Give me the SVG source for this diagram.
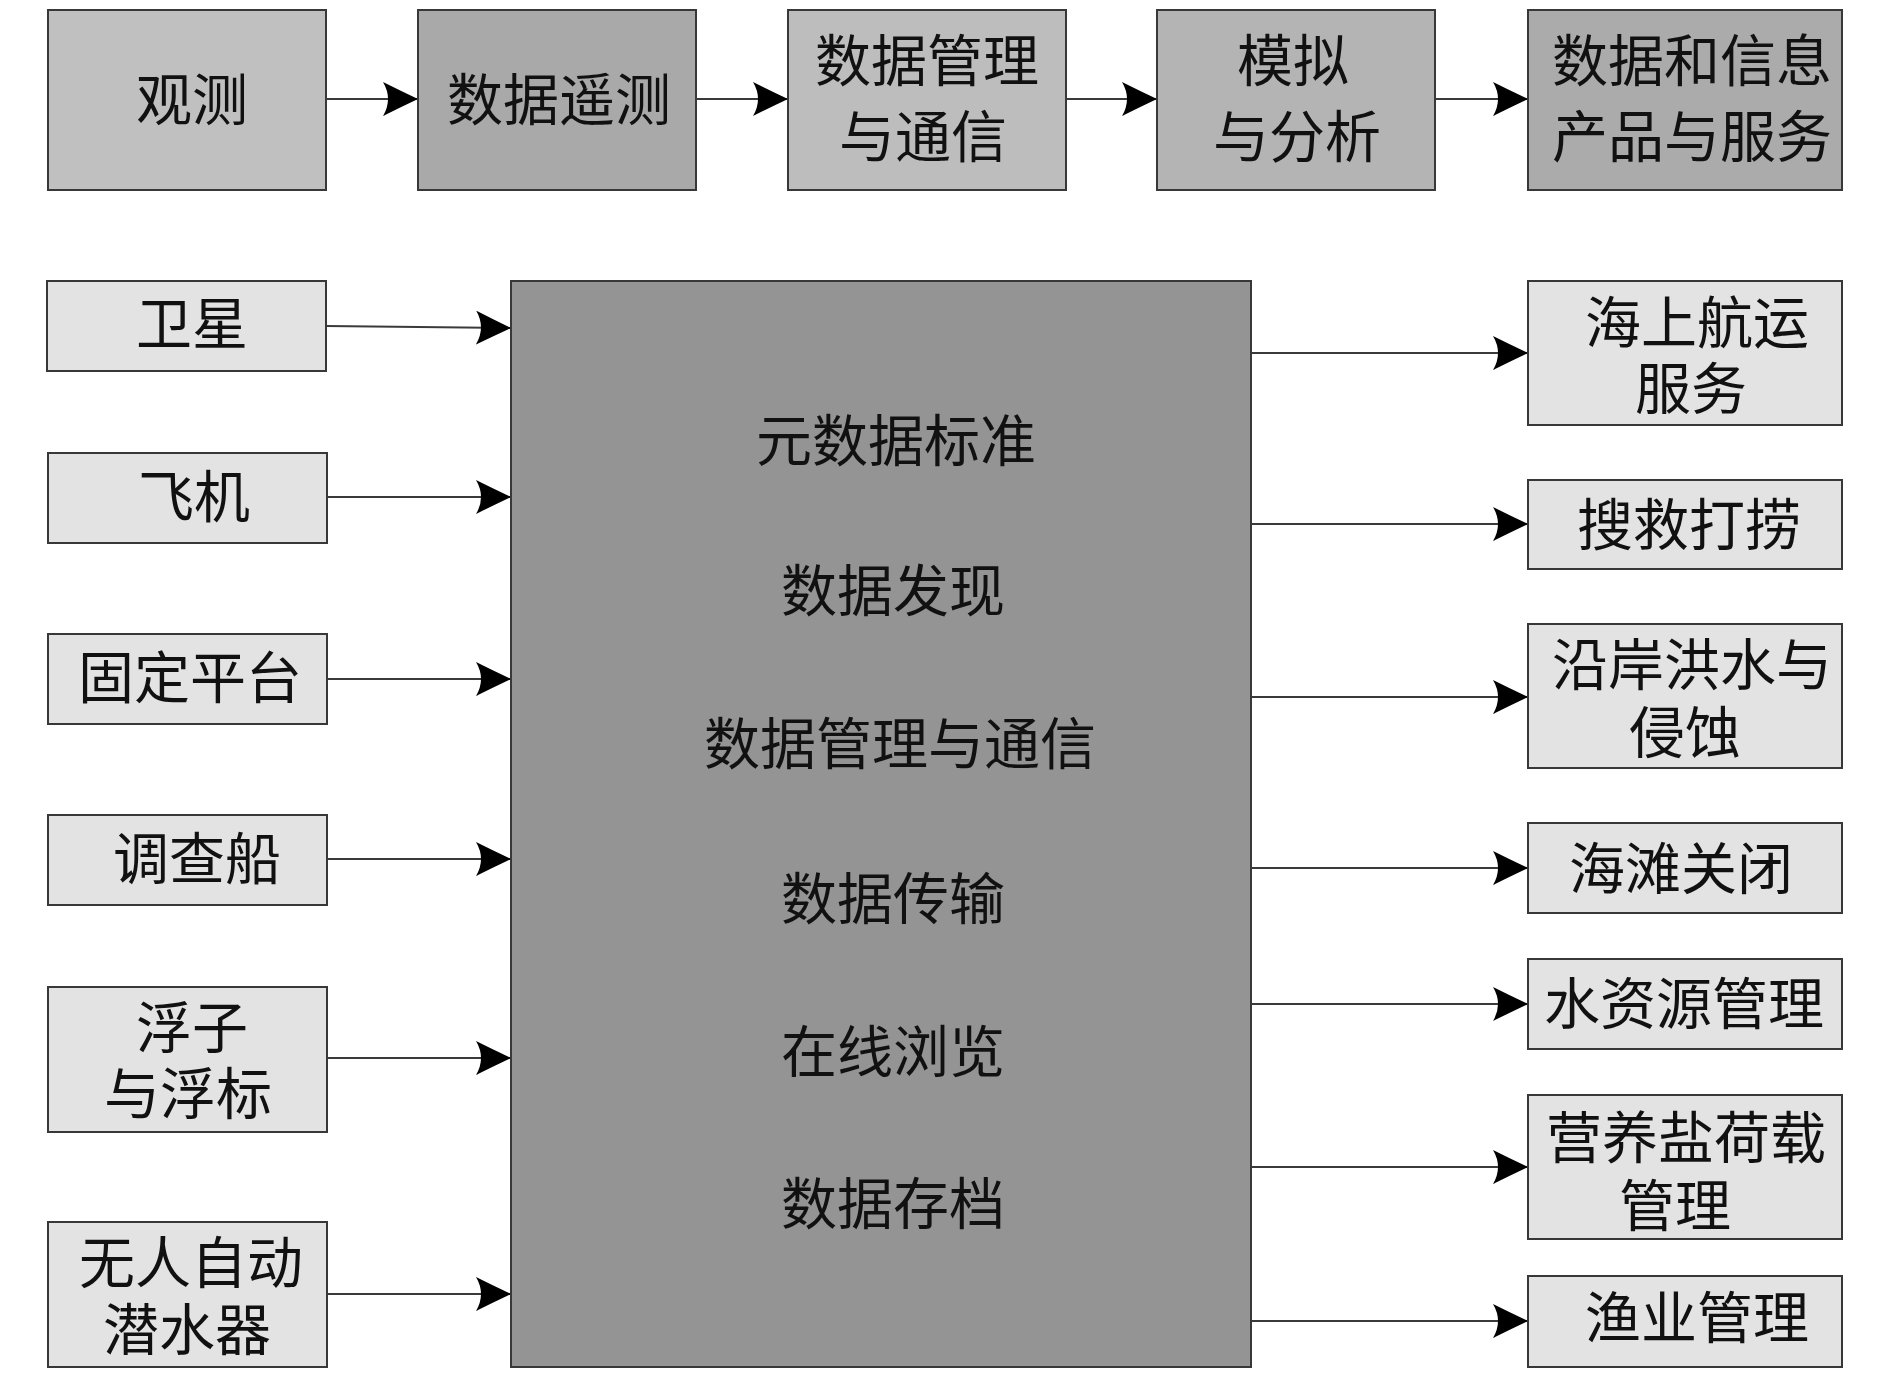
<svg xmlns="http://www.w3.org/2000/svg" width="1890" height="1383" viewBox="0 0 1890 1383">
<style>
.b{stroke:#383838;stroke-width:2}
.t{font-family:"Noto Sans CJK SC","Noto Sans CJK JP",sans-serif;font-size:56px;fill:#111;text-anchor:middle}
.c{fill:none;stroke:#3a3a3a;stroke-width:2;marker-end:url(#ah)}
.s{fill:#e3e3e3}
</style>
<defs>
<marker id="ah" viewBox="0 0 35 34" refX="35" refY="17" markerWidth="35" markerHeight="34" markerUnits="userSpaceOnUse" orient="auto">
<path d="M0,0 Q18,9 35,17 Q18,25 0,34 Q10,17 0,0 Z" fill="#000"/>
</marker>
</defs>
<rect width="1890" height="1383" fill="#fff"/>
<g id="connectors">
<path class="c" d="M326,99 H418"/>
<path class="c" d="M696,99 H788"/>
<path class="c" d="M1066,99 H1157"/>
<path class="c" d="M1435,99 H1528"/>
<path class="c" d="M326,326 L511,328"/>
<path class="c" d="M327,497 H511"/>
<path class="c" d="M327,679 H511"/>
<path class="c" d="M327,859 H511"/>
<path class="c" d="M327,1058 H511"/>
<path class="c" d="M327,1294 H511"/>
<path class="c" d="M1251,353 H1528"/>
<path class="c" d="M1251,498 V524 H1528"/>
<path class="c" d="M1251,697 H1528"/>
<path class="c" d="M1251,868 H1528"/>
<path class="c" d="M1251,1004 H1528"/>
<path class="c" d="M1251,1167 H1528"/>
<path class="c" d="M1251,1321 H1528"/>
</g>
<g id="n_obs"><rect class="b" x="48" y="10" width="278" height="180" fill="#c0c0c0"/><text class="t" x="192" y="120">观测</text></g>
<g id="n_tele"><rect class="b" x="418" y="10" width="278" height="180" fill="#a9a9a9"/><text class="t" x="559" y="120">数据遥测</text></g>
<g id="n_dmc"><rect class="b" x="788" y="10" width="278" height="180" fill="#bdbdbd"/><text class="t"><tspan x="927" y="81">数据管理</tspan><tspan x="923" y="157">与通信</tspan></text></g>
<g id="n_model"><rect class="b" x="1157" y="10" width="278" height="180" fill="#b4b4b4"/><text class="t"><tspan x="1293" y="81">模拟</tspan><tspan x="1297" y="157">与分析</tspan></text></g>
<g id="n_prod"><rect class="b" x="1528" y="10" width="314" height="180" fill="#ababab"/><text class="t"><tspan x="1692" y="81">数据和信息</tspan><tspan x="1692" y="157">产品与服务</tspan></text></g>

<g id="n_sat"><rect class="b s" x="47" y="281" width="279" height="90"/><text class="t" x="192" y="344">卫星</text></g>
<g id="n_plane"><rect class="b s" x="48" y="453" width="279" height="90"/><text class="t" x="194" y="517">飞机</text></g>
<g id="n_fixed"><rect class="b s" x="48" y="634" width="279" height="90"/><text class="t" x="190" y="698">固定平台</text></g>
<g id="n_ship"><rect class="b s" x="48" y="815" width="279" height="90"/><text class="t" x="197" y="879">调查船</text></g>
<g id="n_buoy"><rect class="b s" x="48" y="987" width="279" height="145"/><text class="t"><tspan x="192" y="1048">浮子</tspan><tspan x="188" y="1114">与浮标</tspan></text></g>
<g id="n_auv"><rect class="b s" x="48" y="1222" width="279" height="145"/><text class="t"><tspan x="191" y="1283">无人自动</tspan><tspan x="187" y="1350">潜水器</tspan></text></g>

<g id="n_core"><rect class="b" x="511" y="281" width="740" height="1086" fill="#949494"/>
<text class="t" x="896" y="461">元数据标准</text>
<text class="t" x="893" y="611">数据发现</text>
<text class="t" x="900" y="764">数据管理与通信</text>
<text class="t" x="893" y="919">数据传输</text>
<text class="t" x="893" y="1072">在线浏览</text>
<text class="t" x="893" y="1224">数据存档</text>
</g>

<g id="n_ship_srv"><rect class="b s" x="1528" y="281" width="314" height="144"/><text class="t"><tspan x="1697" y="343">海上航运</tspan><tspan x="1691" y="409">服务</tspan></text></g>
<g id="n_sar"><rect class="b s" x="1528" y="480" width="314" height="89"/><text class="t" x="1689" y="545">搜救打捞</text></g>
<g id="n_flood"><rect class="b s" x="1528" y="624" width="314" height="144"/><text class="t"><tspan x="1692" y="685">沿岸洪水与</tspan><tspan x="1685" y="753">侵蚀</tspan></text></g>
<g id="n_beach"><rect class="b s" x="1528" y="823" width="314" height="90"/><text class="t" x="1681" y="889">海滩关闭</text></g>
<g id="n_water"><rect class="b s" x="1528" y="959" width="314" height="90"/><text class="t" x="1684" y="1024">水资源管理</text></g>
<g id="n_nutr"><rect class="b s" x="1528" y="1095" width="314" height="144"/><text class="t"><tspan x="1686" y="1158">营养盐荷载</tspan><tspan x="1675" y="1226">管理</tspan></text></g>
<g id="n_fish"><rect class="b s" x="1528" y="1276" width="314" height="91"/><text class="t" x="1697" y="1338">渔业管理</text></g>
</svg>
